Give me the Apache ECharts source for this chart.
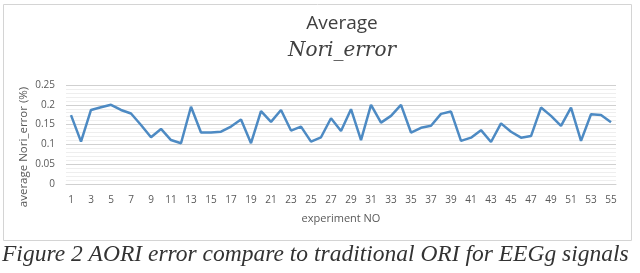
<!DOCTYPE html>
<html><head><meta charset="utf-8">
<script src="https://cdn.jsdelivr.net/npm/echarts@6/dist/echarts.min.js"></script>
<style>html,body{margin:0;padding:0;background:#fff}#c{width:640px;height:273px}</style>
</head><body><div id="c"></div>
<script>
const categories = Array.from({length:55},(_,i)=>String(i+1));
const values = [0.174,0.107,0.187,0.194,0.200,0.187,0.178,0.149,0.118,0.139,
0.111,0.103,0.195,0.130,0.130,0.132,0.145,0.163,0.103,0.184,
0.157,0.187,0.135,0.145,0.107,0.118,0.166,0.134,0.189,0.111,
0.200,0.155,0.172,0.200,0.130,0.142,0.147,0.177,0.183,0.109,
0.117,0.136,0.106,0.153,0.132,0.117,0.121,0.193,0.172,0.147,
0.193,0.109,0.176,0.174,0.156];
const yTicks = [0,0.05,0.1,0.15,0.2,0.25];
const titleText = 'Average';
const subTitleText = 'Nori_error';
const yName = 'average Nori_error (%)';
const captionText = 'Figure 2 AORI error compare to traditional ORI for EEGg signals';

const chart = echarts.init(document.getElementById('c'), null, {renderer:'canvas'});
chart.setOption({
  animation:false,
  graphic:[
    {type:'rect', shape:{x:3.5,y:4.5,width:628,height:236}, style:{fill:'none',stroke:'#d4d4d4',lineWidth:1}},
    {type:'text', x:342, y:14, style:{text:titleText, align:'center', font:'19px "Open Sans", "DejaVu Sans", sans-serif', fill:'#404040'}},
    {type:'text', x:342, y:41, style:{text:subTitleText, align:'center', font:'italic 20px "DejaVu Serif", serif', fill:'#404040'}},
    {type:'text', x:24, y:147, rotation:Math.PI/2, style:{text:yName, align:'center', verticalAlign:'middle', font:'11.5px "Open Sans", sans-serif', fill:'#595959'}},
    {type:'text', left:2, top:243, style:{text:captionText, font:'italic 23.5px "Liberation Serif", serif', fill:'#333'}}
  ],
  grid:{left:66, right:24, top:85, bottom:89, containLabel:false},
  xAxis:{
    type:'category', data:categories, boundaryGap:true,
    name:'experiment NO', nameLocation:'middle', nameGap:29,
    nameTextStyle:{color:'#595959', fontSize:11, fontFamily:'"Open Sans", sans-serif'},
    axisLine:{show:true, lineStyle:{color:'#d0d0d0'}},
    axisTick:{show:false},
    axisLabel:{interval:1, color:'#595959', fontSize:10, margin:11, fontFamily:'"Open Sans", sans-serif'}
  },
  yAxis:{
    type:'value', min:0, max:0.25, interval:0.05,
    axisLine:{show:false}, axisTick:{show:false},
    axisLabel:{color:'#595959', fontSize:10, margin:11, fontFamily:'"Open Sans", sans-serif',
      formatter:v=>String(+v.toFixed(2))},
    splitLine:{lineStyle:{color:'#d0d0d0'}},
    minorTick:{show:false, splitNumber:5},
    minorSplitLine:{show:true, lineStyle:{color:'#eeeeee'}}
  },
  series:[{
    type:'line', data:values, symbol:'none',
    lineStyle:{color:'#4d8ac3', width:2.5}
  }]
});
</script></body></html>
